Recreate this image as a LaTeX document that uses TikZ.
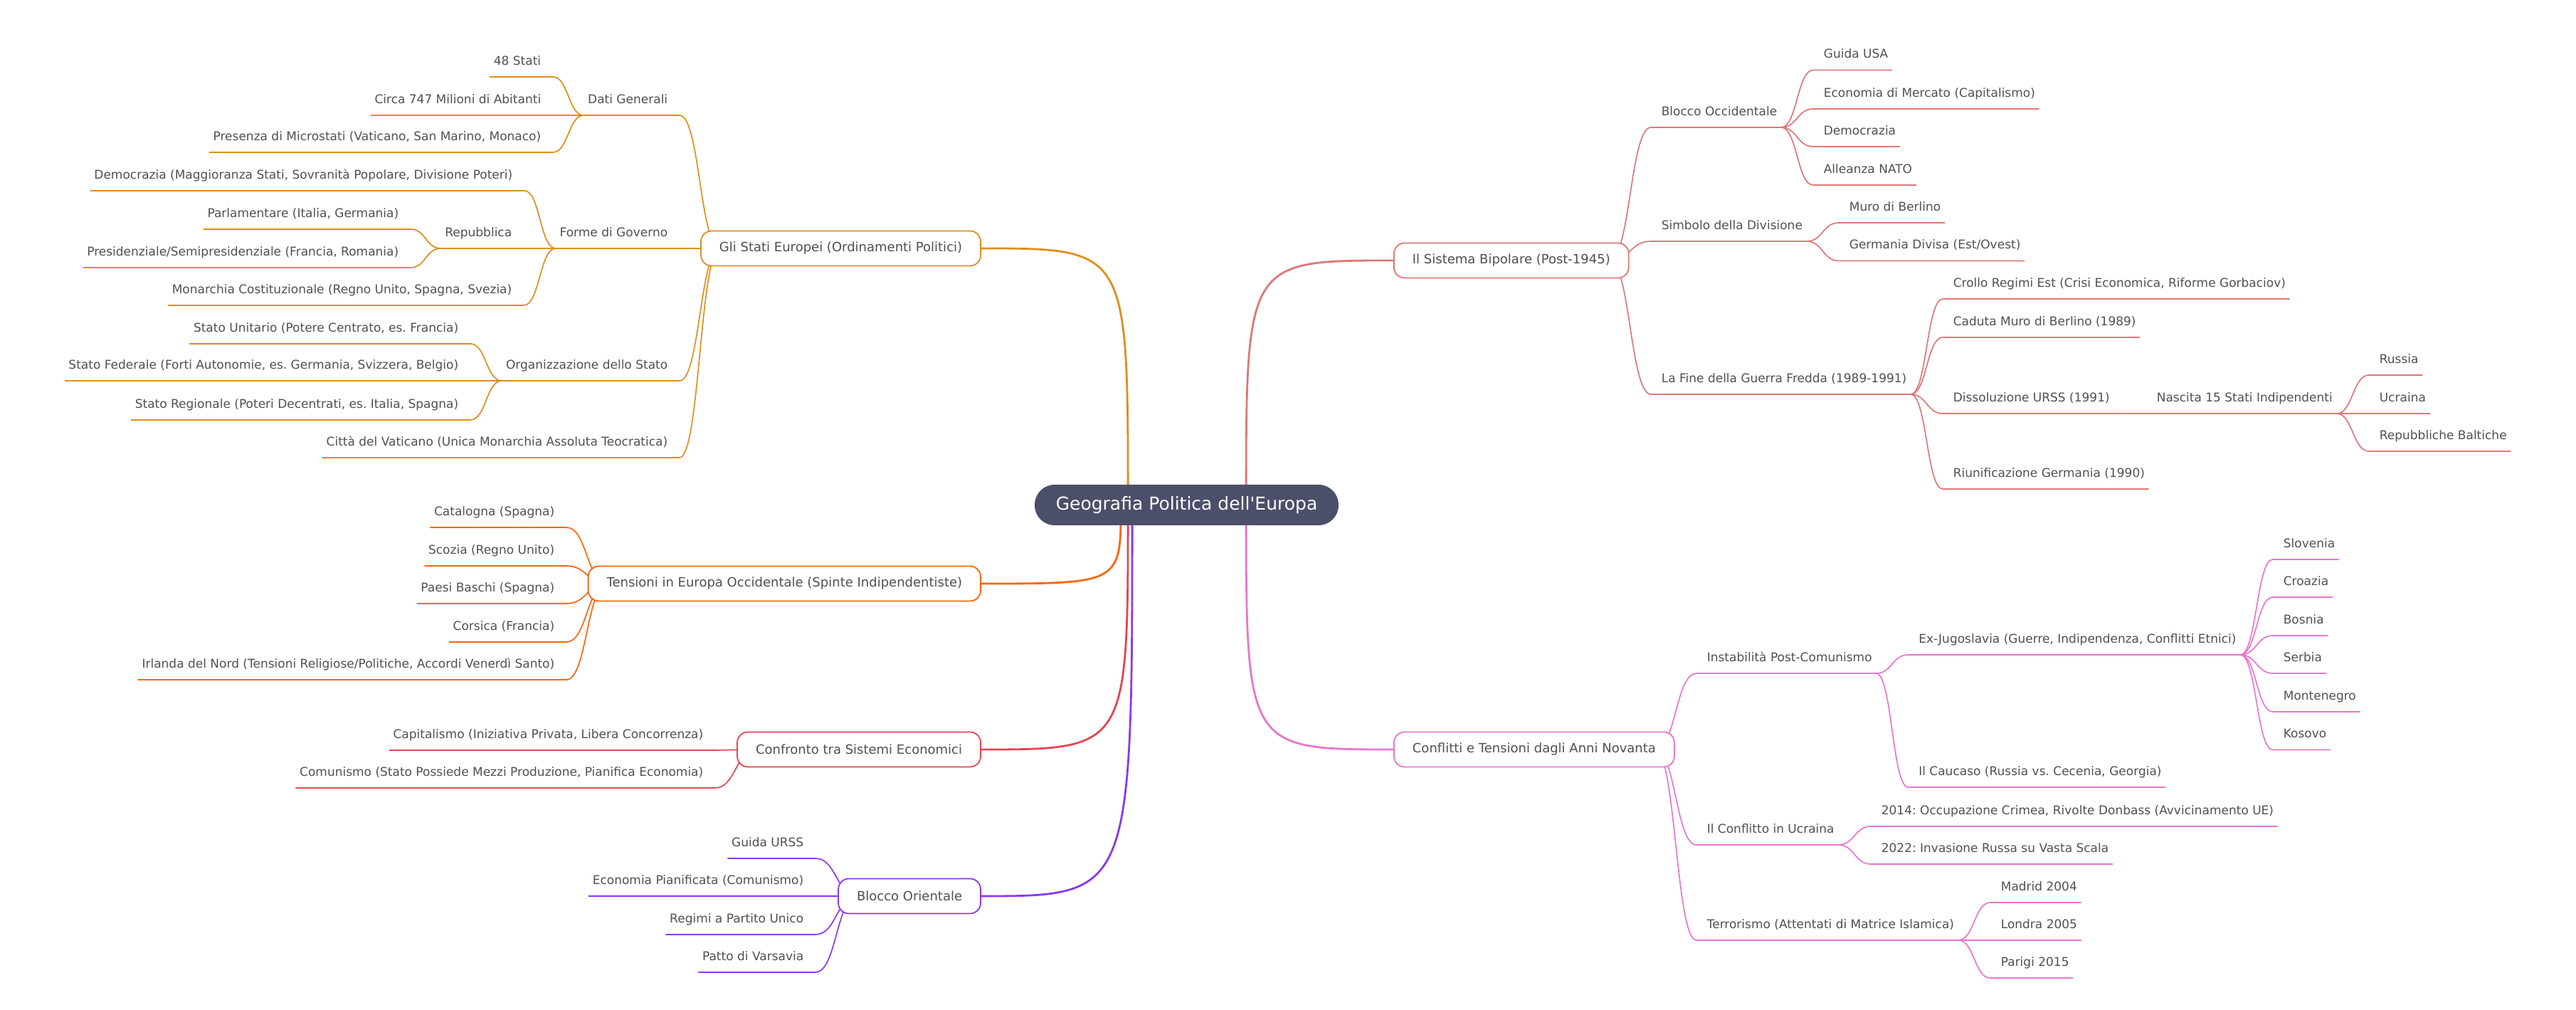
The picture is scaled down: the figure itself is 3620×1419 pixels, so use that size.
\documentclass[tikz,border=0pt]{standalone}
\usepackage{fontspec}
\setmainfont{DejaVu Sans}
\usetikzlibrary{calc, backgrounds, positioning}
\frenchspacing
\definecolor{rootc}{HTML}{4C4F69}
\definecolor{txt}{HTML}{505050}
\definecolor{cyel}{HTML}{DF8E1D}
\definecolor{cpea}{HTML}{FE640B}
\definecolor{cmar}{HTML}{E64553}
\definecolor{cmau}{HTML}{8839EF}
\definecolor{cfla}{HTML}{DD7878}
\definecolor{cpnk}{HTML}{EA76CB}
\tikzstyle{mainbox}=[fill=rootc, text=white, rounded corners=7pt, minimum width=106.75pt,
minimum height=14.25pt, font=\fontsize{6.25}{7.5}\selectfont]
\tikzstyle{topic}=[draw, fill=white, line width=0.45pt, rounded corners=3.75pt,
minimum height=12.25pt, inner xsep=6.5pt, text=txt, font=\fontsize{4.5}{5.4}\selectfont]
\tikzstyle{entry}=[inner xsep=0pt, inner ysep=4pt, text height=3pt, text depth=0pt,
text=txt, font=\fontsize{4.25}{5.1}\selectfont]
\tikzstyle{twig}=[line width=0.42pt]
\tikzstyle{trunk}=[line width=0.7pt]
% underline of a child and S-curve to the parent junction
\newcommand{\lbranch}[3]{\draw[twig,#1] let \p1=([xshift=4pt]#2.south east), \p2=(#3) in
  ([xshift=-1.25pt]#2.south west) -- (\p1) .. controls ({(\x1+\x2)/2},\y1) and ({(\x1+\x2)/2},\y2) .. (\p2);}
\newcommand{\rbranch}[3]{\draw[twig,#1] let \p1=([xshift=-3.5pt]#2.south west), \p2=(#3) in
  ([xshift=1.25pt]#2.south east) -- (\p1) .. controls ({(\x1+\x2)/2},\y1) and ({(\x1+\x2)/2},\y2) .. (\p2);}

\begin{document}
\begin{tikzpicture}[x=0.25pt, y=-0.25pt]
    \useasboundingbox (0,0) rectangle (3620,1419);

    \node[mainbox] (geo) at (1667.5,709.5) {Geografia Politica dell\textquotesingle Europa};
    \coordinate (gl) at ([xshift=-20.6pt]geo.center);
    \coordinate (gt) at ([xshift=-23.1pt]geo.center);
    \coordinate (gm) at ([xshift=-19.1pt]geo.center);
    \coordinate (gr) at ([xshift=20.9pt]geo.center);

    % Gli Stati Europei
    \node[topic, draw=cyel, anchor=east] (gse) at (1379,349) {Gli Stati Europei (Ordinamenti Politici)};
    \node[entry, anchor=south east] (dati) at (939,162) {Dati Generali};
    \node[entry, anchor=south east] (stati) at (761,108) {48 Stati};
    \node[entry, anchor=south east] (abit) at (761,162) {Circa 747 Milioni di Abitanti};
    \node[entry, anchor=south east] (micro) at (761,214) {Presenza di Microstati (Vaticano, San Marino, Monaco)};
    \node[entry, anchor=south east] (forme) at (939,349) {Forme di Governo};
    \node[entry, anchor=south east] (democ) at (721,268) {Democrazia (Maggioranza Stati, Sovranità Popolare, Divisione Poteri)};
    \node[entry, anchor=south east] (repub) at (720,349) {Repubblica};
    \node[entry, anchor=south east] (parl) at (561,322) {Parlamentare (Italia, Germania)};
    \node[entry, anchor=south east] (pres) at (561,376) {Presidenziale/Semipresidenziale (Francia, Romania)};
    \node[entry, anchor=south east] (monar) at (720,429) {Monarchia Costituzionale (Regno Unito, Spagna, Svezia)};
    \node[entry, anchor=south east] (org) at (939,535) {Organizzazione dello Stato};
    \node[entry, anchor=south east] (unit) at (645,483) {Stato Unitario (Potere Centrato, es. Francia)};
    \node[entry, anchor=south east] (fed) at (645,535) {Stato Federale (Forti Autonomie, es. Germania, Svizzera, Belgio)};
    \node[entry, anchor=south east] (reg) at (645,590) {Stato Regionale (Poteri Decentrati, es. Italia, Spagna)};
    \node[entry, anchor=south east] (vat) at (939,643) {Città del Vaticano (Unica Monarchia Assoluta Teocratica)};
    \begin{scope}[on background layer]
        \draw[trunk, cyel] (gl) .. controls (gl |- gse.east) .. (gse.east);
        \lbranch{cyel}{dati}{[xshift=7pt]gse.west}
        \lbranch{cyel}{stati}{[xshift=-1.25pt]dati.south west}
        \lbranch{cyel}{abit}{[xshift=-1.25pt]dati.south west}
        \lbranch{cyel}{micro}{[xshift=-1.25pt]dati.south west}
        \lbranch{cyel}{forme}{[xshift=7pt]gse.west}
        \lbranch{cyel}{democ}{[xshift=-1.25pt]forme.south west}
        \lbranch{cyel}{repub}{[xshift=-1.25pt]forme.south west}
        \lbranch{cyel}{parl}{[xshift=-1.25pt]repub.south west}
        \lbranch{cyel}{pres}{[xshift=-1.25pt]repub.south west}
        \lbranch{cyel}{monar}{[xshift=-1.25pt]forme.south west}
        \lbranch{cyel}{org}{[xshift=7pt]gse.west}
        \lbranch{cyel}{unit}{[xshift=-1.25pt]org.south west}
        \lbranch{cyel}{fed}{[xshift=-1.25pt]org.south west}
        \lbranch{cyel}{reg}{[xshift=-1.25pt]org.south west}
        \lbranch{cyel}{vat}{[xshift=7pt]gse.west}
    \end{scope}

    % Tensioni in Europa Occidentale
    \node[topic, draw=cpea, anchor=east] (ten) at (1379,820) {Tensioni in Europa Occidentale (Spinte Indipendentiste)};
    \node[entry, anchor=south east] (cat) at (780,741) {Catalogna (Spagna)};
    \node[entry, anchor=south east] (sco) at (780,795) {Scozia (Regno Unito)};
    \node[entry, anchor=south east] (bas) at (780,848) {Paesi Baschi (Spagna)};
    \node[entry, anchor=south east] (cor) at (780,902) {Corsica (Francia)};
    \node[entry, anchor=south east] (irl) at (780,955) {Irlanda del Nord (Tensioni Religiose/Politiche, Accordi Venerdì Santo)};
    \begin{scope}[on background layer]
        \draw[trunk, cpea] (gt) .. controls (gt |- ten.east) .. (ten.east);
        \foreach \c in {cat, sco, bas, cor, irl}
            {\lbranch{cpea}{\c}{[xshift=7pt]ten.west}}
    \end{scope}

    % Confronto tra Sistemi Economici
    \node[topic, draw=cmar, anchor=east] (conf) at (1379,1053) {Confronto tra Sistemi Economici};
    \node[entry, anchor=south east] (capi) at (989,1054) {Capitalismo (Iniziativa Privata, Libera Concorrenza)};
    \node[entry, anchor=south east] (comu) at (989,1107) {Comunismo (Stato Possiede Mezzi Produzione, Pianifica Economia)};
    \begin{scope}[on background layer]
        \draw[trunk, cmar] (gl) .. controls (gl |- conf.east) .. (conf.east);
        \lbranch{cmar}{capi}{[xshift=7pt]conf.west}
        \lbranch{cmar}{comu}{[xshift=7pt]conf.west}
    \end{scope}

    % Blocco Orientale
    \node[topic, draw=cmau, anchor=east] (bor) at (1379,1259) {Blocco Orientale};
    \node[entry, anchor=south east] (gurss) at (1130,1206) {Guida URSS};
    \node[entry, anchor=south east] (econp) at (1130,1259) {Economia Pianificata (Comunismo)};
    \node[entry, anchor=south east] (regimi) at (1130,1313) {Regimi a Partito Unico};
    \node[entry, anchor=south east] (patto) at (1130,1366) {Patto di Varsavia};
    \begin{scope}[on background layer]
        \draw[trunk, cmau] (gm) .. controls (gm |- bor.east) .. (bor.east);
        \foreach \c in {gurss, econp, regimi, patto}
            {\lbranch{cmau}{\c}{[xshift=7pt]bor.west}}
    \end{scope}

    % Il Sistema Bipolare
    \node[topic, draw=cfla, anchor=west] (sis) at (1958,366) {Il Sistema Bipolare (Post-1945)};
    \node[entry, anchor=south west] (bocc) at (2334,179) {Blocco Occidentale};
    \node[entry, anchor=south west] (gusa) at (2562,98.5) {Guida USA};
    \node[entry, anchor=south west] (econm) at (2562,153) {Economia di Mercato (Capitalismo)};
    \node[entry, anchor=south west] (demo) at (2562,206) {Democrazia};
    \node[entry, anchor=south west] (nato) at (2562,260) {Alleanza NATO};
    \node[entry, anchor=south west] (simb) at (2334,339) {Simbolo della Divisione};
    \node[entry, anchor=south west] (muro) at (2598,313) {Muro di Berlino};
    \node[entry, anchor=south west] (germ) at (2598,366.5) {Germania Divisa (Est/Ovest)};
    \node[entry, anchor=south west] (fine) at (2334,554) {La Fine della Guerra Fredda (1989-1991)};
    \node[entry, anchor=south west] (crollo) at (2744,420) {Crollo Regimi Est (Crisi Economica, Riforme Gorbaciov)};
    \node[entry, anchor=south west] (caduta) at (2744,474) {Caduta Muro di Berlino (1989)};
    \node[entry, anchor=south west] (diss) at (2744,581) {Dissoluzione URSS (1991)};
    \node[entry, anchor=south west] (nasc) at (3030,581) {Nascita 15 Stati Indipendenti};
    \node[entry, anchor=south west] (russia) at (3343,527) {Russia};
    \node[entry, anchor=south west] (ucr) at (3343,581) {Ucraina};
    \node[entry, anchor=south west] (balt) at (3343,634) {Repubbliche Baltiche};
    \node[entry, anchor=south west] (riun) at (2744,687) {Riunificazione Germania (1990)};
    \begin{scope}[on background layer]
        \draw[trunk, cfla] (gr) .. controls (gr |- sis.west) .. (sis.west);
        \foreach \c in {bocc, simb, fine}
            {\rbranch{cfla}{\c}{[xshift=-7pt]sis.east}}
        \foreach \c in {gusa, econm, demo, nato}
            {\rbranch{cfla}{\c}{[xshift=1.25pt]bocc.south east}}
        \foreach \c in {muro, germ}
            {\rbranch{cfla}{\c}{[xshift=1.25pt]simb.south east}}
        \foreach \c in {crollo, caduta, diss, riun}
            {\rbranch{cfla}{\c}{[xshift=1.25pt]fine.south east}}
        \rbranch{cfla}{nasc}{[xshift=1.25pt]diss.south east}
        \foreach \c in {russia, ucr, balt}
            {\rbranch{cfla}{\c}{[xshift=1.25pt]nasc.south east}}
    \end{scope}

    % Conflitti e Tensioni dagli Anni Novanta
    \node[topic, draw=cpnk, anchor=west] (confl) at (1958,1053) {Conflitti e Tensioni dagli Anni Novanta};
    \node[entry, anchor=south west] (inst) at (2398,946) {Instabilità Post-Comunismo};
    \node[entry, anchor=south west] (exj) at (2695.5,920) {Ex-Jugoslavia (Guerre, Indipendenza, Conflitti Etnici)};
    \node[entry, anchor=south west] (slo) at (3208,786) {Slovenia};
    \node[entry, anchor=south west] (cro) at (3208,839) {Croazia};
    \node[entry, anchor=south west] (bos) at (3208,893) {Bosnia};
    \node[entry, anchor=south west] (ser) at (3208,946) {Serbia};
    \node[entry, anchor=south west] (mon) at (3208,1000) {Montenegro};
    \node[entry, anchor=south west] (kos) at (3208,1053.5) {Kosovo};
    \node[entry, anchor=south west] (cauc) at (2695.5,1106) {Il Caucaso (Russia vs. Cecenia, Georgia)};
    \node[entry, anchor=south west] (ucra) at (2398,1187) {Il Conflitto in Ucraina};
    \node[entry, anchor=south west] (y2014) at (2643,1161) {2014: Occupazione Crimea, Rivolte Donbass (Avvicinamento UE)};
    \node[entry, anchor=south west] (y2022) at (2643,1214) {2022: Invasione Russa su Vasta Scala};
    \node[entry, anchor=south west] (terr) at (2398,1321) {Terrorismo (Attentati di Matrice Islamica)};
    \node[entry, anchor=south west] (madr) at (2811,1268) {Madrid 2004};
    \node[entry, anchor=south west] (lond) at (2811,1321) {Londra 2005};
    \node[entry, anchor=south west] (par) at (2811,1374) {Parigi 2015};
    \begin{scope}[on background layer]
        \draw[trunk, cpnk] (gr) .. controls (gr |- confl.west) .. (confl.west);
        \foreach \c in {inst, ucra, terr}
            {\rbranch{cpnk}{\c}{[xshift=-7pt]confl.east}}
        \foreach \c in {exj, cauc}
            {\rbranch{cpnk}{\c}{[xshift=1.25pt]inst.south east}}
        \foreach \c in {slo, cro, bos, ser, mon, kos}
            {\rbranch{cpnk}{\c}{[xshift=1.25pt]exj.south east}}
        \foreach \c in {y2014, y2022}
            {\rbranch{cpnk}{\c}{[xshift=1.25pt]ucra.south east}}
        \foreach \c in {madr, lond, par}
            {\rbranch{cpnk}{\c}{[xshift=1.25pt]terr.south east}}
    \end{scope}
\end{tikzpicture}
\end{document}
